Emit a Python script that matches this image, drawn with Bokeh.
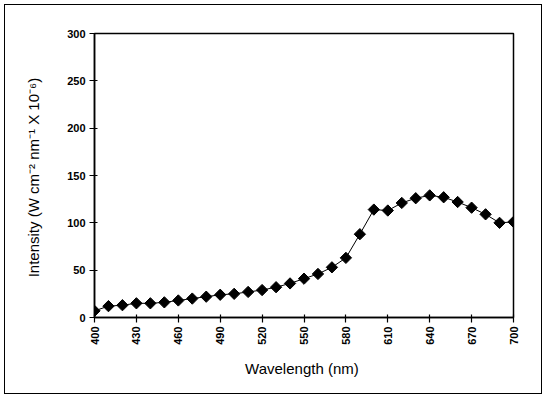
import numpy as np
from bokeh.plotting import figure
from bokeh.models import Range1d, FixedTicker, ColumnDataSource, InlineStyleSheet
from bokeh.embed import file_html
from bokeh.resources import INLINE

wavelength = [400, 410, 420, 430, 440, 450, 460, 470, 480, 490, 500, 510, 520, 530, 540,
              550, 560, 570, 580, 590, 600, 610, 620, 630, 640, 650, 660, 670, 680, 690, 700]
intensity = [7, 12, 13, 15, 15, 16, 18, 20, 22, 24, 25, 27, 29, 32, 36,
             41, 46, 53, 63, 88, 114, 113, 121, 126, 129, 127, 122, 116, 109, 100, 101]
x_ticks = [400, 430, 460, 490, 520, 550, 580, 610, 640, 670, 700]
y_ticks = [0, 50, 100, 150, 200, 250, 300]

src = ColumnDataSource(dict(x=wavelength, y=intensity))

frame_css = InlineStyleSheet(css="""
:host { position: relative; }
:host::after {
  content: "";
  position: absolute;
  left: 4px; top: 4px; width: 536px; height: 388px;
  border: 1.5px solid black;
  pointer-events: none;
  z-index: 100;
}
""")

p = figure(width=544, height=398, output_backend="svg", toolbar_location=None,
           x_range=Range1d(400, 700), y_range=Range1d(0, 300),
           min_border_left=94, min_border_right=31, min_border_top=33, min_border_bottom=81,
           stylesheets=[frame_css])
p.grid.visible = False
p.outline_line_color = "black"
p.outline_line_width = 1.5
p.background_fill_color = "white"
p.border_fill_color = "white"

p.line("x", "y", source=src, line_color="black", line_width=1)
p.scatter("x", "y", source=src, marker="square", angle=np.pi / 4, size=8,
          fill_color="black", line_color="black")

font = "Liberation Sans"
for ax in (p.xaxis[0], p.yaxis[0]):
    ax.axis_line_color = "black"
    ax.axis_line_width = 1.5
    ax.major_tick_in = 3
    ax.major_tick_out = 5
    ax.major_tick_line_width = 1.2
    ax.minor_tick_line_color = None
    ax.major_label_text_font = font
    ax.major_label_text_font_size = "11px"
    ax.major_label_text_font_style = "bold"
    ax.major_label_text_color = "black"
    ax.major_label_standoff = 4
    ax.axis_label_text_font = font
    ax.axis_label_text_font_style = "normal"
    ax.axis_label_text_font_size = "15px"
    ax.axis_label_text_color = "black"

p.xaxis[0].ticker = FixedTicker(ticks=x_ticks)
p.yaxis[0].ticker = FixedTicker(ticks=y_ticks)
p.xaxis[0].major_label_orientation = np.pi / 2
p.xaxis[0].axis_label = "Wavelength  (nm)"
p.yaxis[0].axis_label = "Intensity  (W cm\u207b\u00b2 nm\u207b\u00b9 X 10\u207b\u2076)"
p.xaxis[0].axis_label_standoff = 12
p.yaxis[0].axis_label_standoff = 22

open("out.html", "w").write(file_html(p, INLINE))
